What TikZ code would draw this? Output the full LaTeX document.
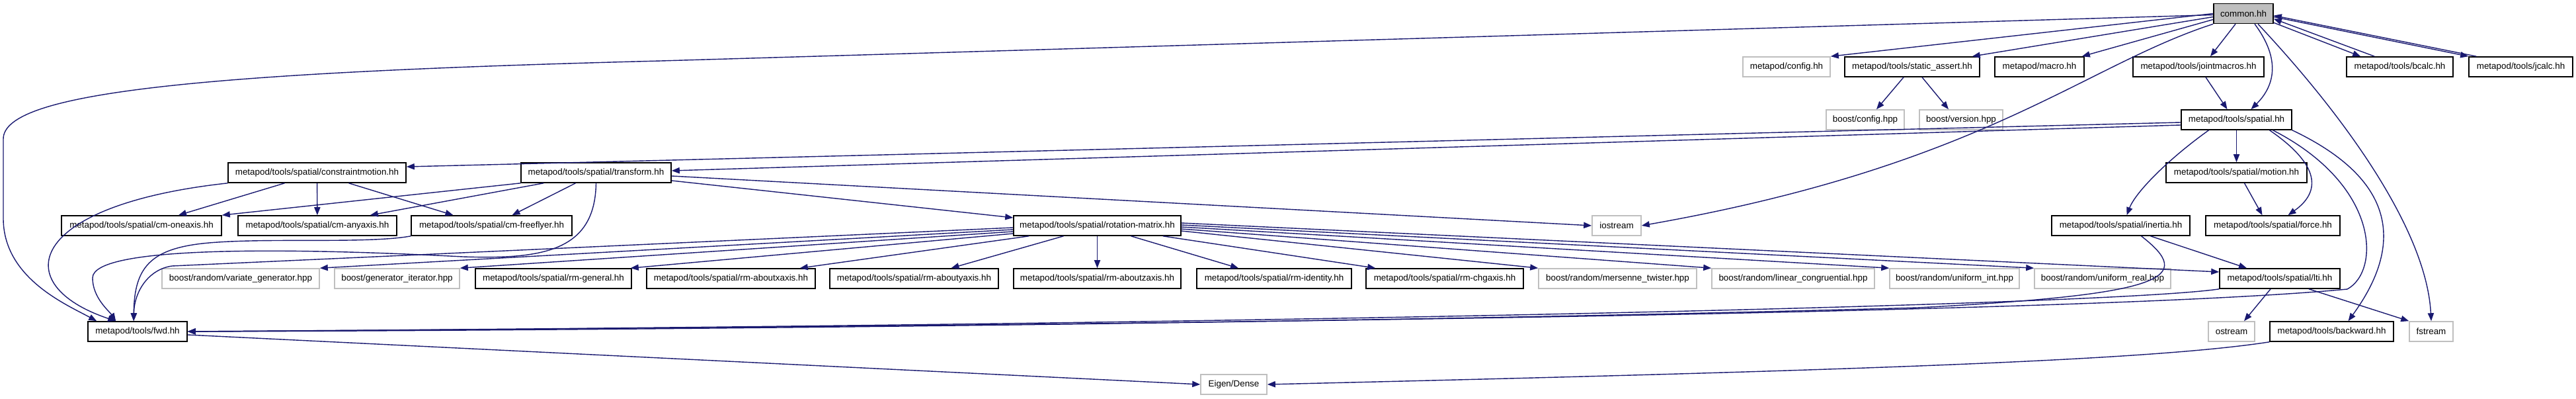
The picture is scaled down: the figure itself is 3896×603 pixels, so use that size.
\documentclass[tikz,border=0pt]{standalone}
\usepackage{fontspec}
\setmainfont{Liberation Sans}
\usetikzlibrary{arrows.meta,calc,positioning}
\definecolor{edgeblue}{rgb}{0.098,0.098,0.439}
\definecolor{boxgray}{rgb}{0.75,0.75,0.75}

\begin{document}
\begin{tikzpicture}[x=0.5pt,y=-0.5pt,
    file/.style={draw=black,line width=0.8pt,fill=white,minimum height=15pt,inner sep=0pt,font=\fontsize{6.7}{8}\selectfont},
    ext/.style={file,draw=boxgray},
    edge/.style={draw=edgeblue,line width=0.7pt,-{Triangle[length=6pt,width=4.6pt]}}]
        \useasboundingbox (0,0) rectangle (3896,603);
        %Row 1
        \node[file,fill=boxgray,minimum width=45pt] (common) at (3393,20.5) {common.hh};
        %Row 2
        \node[ext,minimum width=66pt] (config) at (2702,101) {metapod/config.hh};
        \node[file,minimum width=102pt] (staticassert) at (2892,101) {metapod/tools/static\_assert.hh};
        \node[file,minimum width=67.5pt] (macro) at (3084.5,101) {metapod/macro.hh};
        \node[file,minimum width=99pt] (jointmacros) at (3325,101) {metapod/tools/jointmacros.hh};
        \node[file,minimum width=80.5pt] (bcalc) at (3629.5,101) {metapod/tools/bcalc.hh};
        \node[file,minimum width=78.5pt] (jcalc) at (3812.5,101) {metapod/tools/jcalc.hh};
        %Row 3
        \node[ext,minimum width=59pt] (boostconfig) at (2821,181) {boost/config.hpp};
        \node[ext,minimum width=63pt] (boostversion) at (2966,181) {boost/version.hpp};
        \node[file,minimum width=83.5pt] (spatial) at (3382.5,181) {metapod/tools/spatial.hh};
        %Row 4
        \node[file,minimum width=134.5pt] (constraintmotion) at (479.5,261) {metapod/tools/spatial/constraintmotion.hh};
        \node[file,minimum width=113.5pt] (transform) at (901.5,261) {metapod/tools/spatial/transform.hh};
        \node[file,minimum width=106.5pt] (motion) at (3382.5,261) {metapod/tools/spatial/motion.hh};
        %Row 5
        \node[file,minimum width=121pt] (cmoneaxis) at (214,341) {metapod/tools/spatial/cm-oneaxis.hh};
        \node[file,minimum width=120pt] (cmanyaxis) at (480,341) {metapod/tools/spatial/cm-anyaxis.hh};
        \node[file,minimum width=121.5pt] (cmfreeflyer) at (743.5,341) {metapod/tools/spatial/cm-freeflyer.hh};
        \node[file,minimum width=126.5pt] (rotmatrix) at (1659.5,341) {metapod/tools/spatial/rotation-matrix.hh};
        \node[ext,minimum width=37pt] (iostream) at (2445,341) {iostream};
        \node[file,minimum width=104.5pt] (inertia) at (3207.5,341) {metapod/tools/spatial/inertia.hh};
        \node[file,minimum width=101.5pt] (force) at (3437.5,341) {metapod/tools/spatial/force.hh};
        %Row 6
        \node[ext,minimum width=119pt] (variategen) at (364,421) {boost/random/variate\_generator.hpp};
        \node[ext,minimum width=94.5pt] (geniter) at (600.5,421) {boost/generator\_iterator.hpp};
        \node[file,minimum width=118pt] (rmgeneral) at (837,421) {metapod/tools/spatial/rm-general.hh};
        \node[file,minimum width=127.5pt] (rmaboutx) at (1105.5,421) {metapod/tools/spatial/rm-aboutxaxis.hh};
        \node[file,minimum width=127.5pt] (rmabouty) at (1382.5,421) {metapod/tools/spatial/rm-aboutyaxis.hh};
        \node[file,minimum width=126.5pt] (rmaboutz) at (1659.5,421) {metapod/tools/spatial/rm-aboutzaxis.hh};
        \node[file,minimum width=117pt] (rmidentity) at (1927,421) {metapod/tools/spatial/rm-identity.hh};
        \node[file,minimum width=119pt] (rmchgaxis) at (2185,421) {metapod/tools/spatial/rm-chgaxis.hh};
        \node[ext,minimum width=119.5pt] (mersenne) at (2446.5,421) {boost/random/mersenne\_twister.hpp};
        \node[ext,minimum width=123pt] (lincong) at (2712,421) {boost/random/linear\_congruential.hpp};
        \node[ext,minimum width=98pt] (uniformint) at (2956,421) {boost/random/uniform\_int.hpp};
        \node[ext,minimum width=103pt] (uniformreal) at (3180,421) {boost/random/uniform\_real.hpp};
        \node[file,minimum width=91pt] (lti) at (3448,421) {metapod/tools/spatial/lti.hh};
        %Row 7
        \node[file,minimum width=75pt] (fwd) at (208,501) {metapod/tools/fwd.hh};
        \node[ext,minimum width=35pt] (ostream) at (3375,501) {ostream};
        \node[file,minimum width=93.5pt] (backward) at (3526.5,501) {metapod/tools/backward.hh};
        \node[ext,minimum width=33pt] (fstream) at (3677,501) {fstream};
        %Row 8
        \node[ext,minimum width=50pt] (eigendense) at (1866,581) {Eigen/Dense};
        %common.hh
        \draw[edge] ($(common.west)+(0,2)$) -- (1000,92) .. controls (300,110) and (5,140) .. (5,210) -- (5,330) .. controls (5,420) and (100,460) .. ($(fwd.north west)+(14,0)$);
        \draw[edge] (common.west) -- (config.north east);
        \draw[edge] ($(common.west)+(0,5)$) -- ($(staticassert.north east)+(-12,0)$);
        \draw[edge] ($(common.west)+(0,9)$) -- ($(macro.north east)+(-4,0)$);
        \draw[edge] ($(common.south)+(-12,0)$) -- ($(jointmacros.north)+(18,0)$);
        \draw[edge] ($(common.south)+(17,0)$) .. controls (3450,90) and (3440,130) .. ($(spatial.north)+(22,0)$);
        \draw[edge] (common.south west) .. controls (3150,100) and (3000,250) .. (iostream.east);
        \draw[edge] ($(common.south)+(22,0)$) .. controls (3550,180) and (3670,350) .. (fstream.north);
        \draw[edge] ($(common.south east)+(0,-2)$) -- ($(bcalc.north west)+(22,0)$);
        \draw[edge] ($(bcalc.north west)+(43,0)$) -- ($(common.east)+(0,8)$);
        \draw[edge] ($(common.east)+(0,5)$) -- (jcalc.north west);
        \draw[edge] ($(jcalc.north west)+(12,0)$) -- ($(common.east)+(0,3)$);
        %static_assert.hh and jointmacros.hh
        \draw[edge] ($(staticassert.south)+(-13,0)$) -- ($(boostconfig.north)+(17,0)$);
        \draw[edge] ($(staticassert.south)+(15,0)$) -- ($(boostversion.north)+(-19,0)$);
        \draw[edge] ($(jointmacros.south)+(11,0)$) -- ($(spatial.north)+(-14,0)$);
        %spatial.hh
        \draw[edge] ($(spatial.west)+(0,4)$) -- ($(constraintmotion.east)+(0,-9)$);
        \draw[edge] ($(spatial.west)+(0,8)$) -- ($(transform.east)+(0,-3)$);
        \draw[edge] (spatial) -- (motion);
        \draw[edge] ($(spatial.south)+(-42,0)$) .. controls (3280,240) and (3230,290) .. ($(inertia.north)+(9,0)$);
        \draw[edge] ($(spatial.south)+(50,0)$) .. controls (3510,250) and (3510,290) .. ($(force.north)+(23,0)$);
        \draw[edge] ($(spatial.south)+(55,0)$) .. controls (3600,280) and (3600,410) .. (3550,437) .. controls (3200,470) and (2000,490) .. (fwd.east);
        \draw[edge] (spatial.south east) .. controls (3600,260) and (3650,350) .. ($(backward.north)+(25,0)$);
        \draw[edge] ($(motion.south)+(12,0)$) -- ($(force.north)+(-16,0)$);
        %constraintmotion.hh
        \draw[edge] (constraintmotion.south west) .. controls (40,310) and (10,430) .. ($(fwd.north west)+(43,0)$);
        \draw[edge] ($(constraintmotion.south)+(-49,0)$) -- ($(cmoneaxis.north)+(56,0)$);
        \draw[edge] (constraintmotion) -- (cmanyaxis);
        \draw[edge] ($(constraintmotion.south)+(48,0)$) -- ($(cmfreeflyer.north)+(-58,0)$);
        %transform.hh
        \draw[edge] (transform.south west) -- (cmoneaxis.north east);
        \draw[edge] ($(transform.south west)+(35,0)$) -- ($(cmanyaxis.north east)+(-41,0)$);
        \draw[edge] ($(transform.south)+(-31,0)$) -- ($(cmfreeflyer.north)+(31,0)$);
        \draw[edge] (transform.south) .. controls (900,380) and (820,392) .. (700,388) .. controls (450,375) and (140,370) .. (140,420) .. controls (140,450) and (165,470) .. ($(fwd.north west)+(43,0)$);
        \draw[edge] ($(transform.east)+(0,12)$) -- ($(rotmatrix.west)+(0,-12)$);
        \draw[edge] ($(transform.east)+(0,5)$) -- (iostream.west);
        %cm-freeflyer.hh
        \draw[edge] (cmfreeflyer.south west) .. controls (560,368) and (420,360) .. (330,366) .. controls (230,372) and (203,400) .. ($(fwd.north west)+(70,0)$);
        %rotation-matrix.hh
        \draw[edge] ($(rotmatrix.west)+(0,3)$) -- (260,402) .. controls (225,407) and (203,440) .. ($(fwd.north west)+(70,0)$);
        \draw[edge] ($(rotmatrix.west)+(0,6)$) -- (variategen.north east);
        \draw[edge] ($(rotmatrix.west)+(0,9)$) -- (geniter.north east);
        \draw[edge] ($(rotmatrix.west)+(0,12)$) -- ($(rmgeneral.north east)+(-2,0)$);
        \draw[edge] ($(rotmatrix.south west)+(24,0)$) -- ($(rmaboutx.north east)+(-24,0)$);
        \draw[edge] ($(rotmatrix.south)+(-51,0)$) -- ($(rmabouty.north)+(56,0)$);
        \draw[edge] (rotmatrix) -- (rmaboutz);
        \draw[edge] ($(rotmatrix.south)+(51,0)$) -- ($(rmidentity.north)+(-54,0)$);
        \draw[edge] ($(rotmatrix.south east)+(-28,0)$) -- ($(rmchgaxis.north west)+(15,0)$);
        \draw[edge] ($(rotmatrix.east)+(0,8)$) -- (mersenne.north west);
        \draw[edge] ($(rotmatrix.east)+(0,5)$) -- (lincong.north west);
        \draw[edge] ($(rotmatrix.east)+(0,2)$) -- (uniformint.north west);
        \draw[edge] ($(rotmatrix.east)+(0,-1)$) -- (uniformreal.north west);
        \draw[edge] ($(rotmatrix.east)+(0,-4)$) -- ($(lti.west)+(0,-10)$);
        %inertia.hh and lti.hh
        \draw[edge] ($(inertia.south)+(45,0)$) -- ($(lti.north)+(-50,0)$);
        \draw[edge] ($(inertia.south)+(31,0)$) .. controls (3320,420) and (3280,445) .. (2900,465) .. controls (2000,490) and (800,500) .. (fwd.east);
        \draw[edge] (lti.south west) .. controls (3200,460) and (2000,490) .. (fwd.east);
        \draw[edge] ($(lti.south)+(-14,0)$) -- ($(ostream.north)+(19,0)$);
        \draw[edge] ($(lti.south)+(44,0)$) -- (fstream.north west);
        %fwd.hh and backward.hh
        \draw[edge] ($(fwd.east)+(0,5)$) -- (eigendense.west);
        \draw[edge] (backward.south west) .. controls (3250,545) and (2800,560) .. (eigendense.east);
\end{tikzpicture}
\end{document}
